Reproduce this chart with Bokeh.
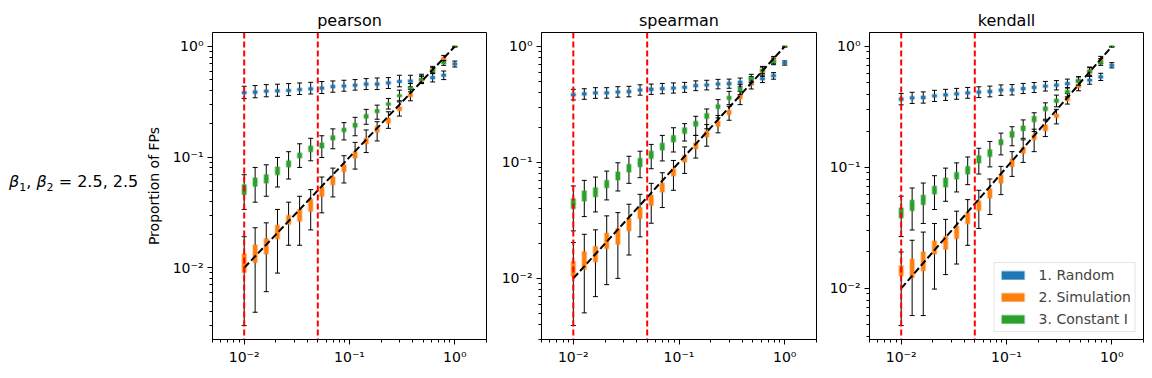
import math
from bokeh.plotting import figure
from bokeh.models import (Range1d, FixedTicker, CustomJSTickFormatter, Span, Div,
                          Legend, LegendItem, Spacer)
from bokeh.layouts import row, column
from bokeh.embed import file_html
from bokeh.resources import INLINE

# ---------------- data ----------------
alphas = [0.01, 0.0127, 0.0162, 0.0207, 0.0264, 0.0336, 0.0428, 0.0546, 0.0695, 0.0886,
          0.113, 0.144, 0.183, 0.234, 0.298, 0.379, 0.483, 0.616, 0.785, 1.0]
alpha_lines = [0.01, 0.05]
ideal = [0.01, 1.0]
panel_titles = ["pearson", "spearman", "kendall"]
series_labels = ["1. Random", "2. Simulation", "3. Constant I"]
y_label = "Proportion of FPs"

# pearson
pearson_random_med = [0.381,0.386,0.394,0.397,0.400,0.408,0.414,0.420,0.434,0.440,0.446,0.456,0.456,0.469,0.482,0.485,0.502,0.523,0.549,0.694]
pearson_random_q1 = [0.371,0.376,0.383,0.386,0.389,0.397,0.403,0.409,0.422,0.428,0.434,0.444,0.444,0.456,0.469,0.472,0.488,0.509,0.534,0.675]
pearson_random_q3 = [0.392,0.397,0.405,0.408,0.411,0.419,0.426,0.432,0.446,0.452,0.458,0.469,0.469,0.482,0.495,0.499,0.516,0.538,0.564,0.713]
pearson_random_lo = [0.339,0.344,0.351,0.355,0.360,0.368,0.372,0.376,0.386,0.394,0.403,0.408,0.408,0.417,0.432,0.432,0.462,0.478,0.502,0.652]
pearson_random_hi = [0.437,0.443,0.452,0.456,0.462,0.468,0.474,0.482,0.488,0.495,0.502,0.512,0.519,0.523,0.549,0.549,0.561,0.576,0.600,0.738]

pearson_sim_med = [0.0108,0.0133,0.0152,0.0212,0.0270,0.0293,0.0373,0.0485,0.0605,0.0796,0.105,0.138,0.176,0.214,0.272,0.360,0.502,0.617,0.780,1.0]
pearson_sim_q1 = [0.00908,0.0112,0.0133,0.0183,0.0247,0.0264,0.0325,0.0443,0.0564,0.0743,0.098,0.132,0.168,0.202,0.263,0.351,0.488,0.600,0.759,0.995]
pearson_sim_q3 = [0.0133,0.0161,0.0183,0.0242,0.0297,0.0337,0.0414,0.0537,0.0661,0.0853,0.112,0.148,0.189,0.224,0.285,0.376,0.512,0.630,0.802,1.0]
pearson_sim_lo = [0.00301,0.00397,0.00609,0.00896,0.0160,0.0160,0.0220,0.0314,0.0437,0.0584,0.0780,0.110,0.140,0.182,0.235,0.323,0.462,0.576,0.738,0.99]
pearson_sim_hi = [0.0191,0.0230,0.0255,0.0337,0.0392,0.0443,0.0509,0.0661,0.0796,0.103,0.136,0.176,0.209,0.257,0.316,0.408,0.541,0.661,0.830,1.0]

pearson_const_med = [0.0509,0.0596,0.0639,0.0743,0.0865,0.103,0.119,0.127,0.150,0.176,0.194,0.232,0.261,0.301,0.358,0.422,0.502,0.600,0.708,1.0]
pearson_const_q1 = [0.0459,0.0545,0.0584,0.0694,0.0813,0.098,0.112,0.121,0.143,0.170,0.186,0.224,0.252,0.295,0.351,0.411,0.495,0.588,0.699,0.995]
pearson_const_q3 = [0.0564,0.0648,0.0694,0.0813,0.0927,0.109,0.126,0.134,0.156,0.182,0.202,0.243,0.270,0.310,0.368,0.431,0.512,0.617,0.723,1.0]
pearson_const_lo = [0.0337,0.0392,0.0443,0.0537,0.0634,0.0807,0.0927,0.0993,0.119,0.143,0.156,0.198,0.220,0.272,0.323,0.389,0.472,0.568,0.675,0.99]
pearson_const_hi = [0.0694,0.0807,0.0853,0.0993,0.112,0.132,0.148,0.156,0.180,0.205,0.229,0.270,0.295,0.339,0.403,0.462,0.538,0.643,0.748,1.0]

# spearman
spearman_random_med = [0.384,0.389,0.397,0.397,0.405,0.408,0.421,0.427,0.433,0.438,0.444,0.459,0.465,0.474,0.478,0.490,0.510,0.527,0.560,0.719]
spearman_random_q1 = [0.374,0.379,0.387,0.387,0.394,0.397,0.410,0.416,0.422,0.426,0.432,0.447,0.453,0.462,0.465,0.477,0.497,0.513,0.545,0.700]
spearman_random_q3 = [0.394,0.400,0.408,0.408,0.416,0.419,0.432,0.439,0.445,0.450,0.456,0.471,0.478,0.487,0.491,0.503,0.524,0.541,0.575,0.738]
spearman_random_lo = [0.346,0.350,0.357,0.358,0.365,0.368,0.380,0.386,0.391,0.396,0.402,0.416,0.422,0.431,0.436,0.448,0.470,0.488,0.522,0.690]
spearman_random_hi = [0.427,0.432,0.441,0.441,0.450,0.453,0.467,0.474,0.480,0.485,0.490,0.505,0.511,0.520,0.523,0.534,0.551,0.566,0.595,0.750]

spearman_sim_med = [0.0120,0.0142,0.0162,0.0211,0.0233,0.0289,0.0369,0.0475,0.0606,0.0826,0.108,0.140,0.176,0.216,0.269,0.367,0.478,0.602,0.763,1.0]
spearman_sim_q1 = [0.0105,0.0120,0.0139,0.0181,0.0197,0.0257,0.0328,0.0427,0.0556,0.0763,0.101,0.131,0.166,0.205,0.259,0.353,0.462,0.582,0.738,0.995]
spearman_sim_q3 = [0.0139,0.0170,0.0188,0.0245,0.0269,0.0328,0.0408,0.0520,0.066,0.0882,0.115,0.148,0.186,0.227,0.280,0.382,0.494,0.622,0.789,1.0]
spearman_sim_lo = [0.00392,0.00504,0.00696,0.00883,0.0100,0.0159,0.0228,0.0299,0.0408,0.0575,0.0804,0.109,0.138,0.180,0.231,0.315,0.430,0.552,0.710,0.99]
spearman_sim_hi = [0.0204,0.0240,0.0262,0.0346,0.0369,0.0436,0.0531,0.066,0.0815,0.104,0.136,0.171,0.212,0.254,0.305,0.410,0.534,0.664,0.820,1.0]

spearman_const_med = [0.0441,0.0514,0.0556,0.0651,0.0763,0.0894,0.0993,0.116,0.136,0.160,0.188,0.216,0.250,0.305,0.360,0.424,0.530,0.622,0.738,1.0]
spearman_const_q1 = [0.0400,0.0465,0.0507,0.0606,0.0705,0.0826,0.0918,0.108,0.128,0.150,0.178,0.205,0.239,0.291,0.348,0.410,0.515,0.606,0.719,0.995]
spearman_const_q3 = [0.0487,0.0567,0.0606,0.070,0.0826,0.0961,0.108,0.125,0.146,0.171,0.199,0.227,0.264,0.315,0.372,0.439,0.546,0.639,0.758,1.0]
spearman_const_lo = [0.0257,0.0341,0.0374,0.0475,0.0567,0.066,0.0738,0.0882,0.103,0.123,0.153,0.171,0.195,0.242,0.315,0.384,0.490,0.582,0.696,0.99]
spearman_const_hi = [0.0626,0.070,0.0748,0.0842,0.0993,0.113,0.125,0.143,0.171,0.199,0.216,0.250,0.289,0.348,0.410,0.468,0.575,0.673,0.794,1.0]

# kendall
kendall_random_med = [0.367,0.376,0.379,0.391,0.398,0.406,0.414,0.419,0.424,0.435,0.438,0.449,0.457,0.469,0.478,0.493,0.519,0.525,0.560,0.698]
kendall_random_q1 = [0.357,0.366,0.368,0.380,0.387,0.395,0.403,0.408,0.413,0.424,0.426,0.437,0.446,0.457,0.466,0.481,0.506,0.512,0.546,0.682]
kendall_random_q3 = [0.377,0.386,0.389,0.401,0.409,0.417,0.425,0.430,0.436,0.447,0.450,0.461,0.470,0.482,0.491,0.506,0.532,0.539,0.575,0.714]
kendall_random_lo = [0.329,0.338,0.340,0.351,0.358,0.366,0.373,0.378,0.383,0.394,0.397,0.408,0.416,0.428,0.437,0.453,0.479,0.487,0.523,0.665]
kendall_random_hi = [0.408,0.418,0.421,0.434,0.442,0.450,0.458,0.464,0.470,0.481,0.484,0.495,0.503,0.514,0.522,0.537,0.562,0.567,0.600,0.735]

kendall_sim_med = [0.0140,0.0147,0.0167,0.0217,0.0237,0.0290,0.0381,0.0481,0.0611,0.0807,0.109,0.139,0.178,0.213,0.268,0.369,0.469,0.623,0.767,1.0]
kendall_sim_q1 = [0.0127,0.0123,0.0140,0.0192,0.0211,0.0258,0.0342,0.0440,0.0560,0.0743,0.102,0.131,0.169,0.201,0.259,0.355,0.455,0.604,0.743,0.995]
kendall_sim_q3 = [0.0154,0.0174,0.0200,0.0247,0.0268,0.0327,0.0421,0.0525,0.0664,0.0870,0.117,0.146,0.186,0.224,0.276,0.383,0.484,0.643,0.792,1.0]
kendall_sim_lo = [0.00493,0.00596,0.00596,0.00987,0.0130,0.0159,0.0227,0.0313,0.0408,0.0596,0.0843,0.110,0.135,0.180,0.229,0.334,0.430,0.567,0.720,0.99]
kendall_sim_hi = [0.0200,0.0250,0.0292,0.0344,0.0372,0.0435,0.0542,0.0647,0.0802,0.102,0.135,0.169,0.207,0.243,0.302,0.408,0.519,0.676,0.828,1.0]

kendall_const_med = [0.0421,0.0487,0.0539,0.0651,0.0753,0.0854,0.0951,0.116,0.131,0.162,0.188,0.211,0.251,0.305,0.355,0.421,0.516,0.619,0.739,1.0]
kendall_const_q1 = [0.0383,0.0440,0.0493,0.0603,0.0689,0.0802,0.0882,0.109,0.123,0.154,0.178,0.201,0.239,0.294,0.344,0.408,0.500,0.604,0.720,0.995]
kendall_const_q3 = [0.0463,0.0536,0.0589,0.0698,0.0818,0.0910,0.102,0.125,0.140,0.169,0.198,0.220,0.263,0.317,0.367,0.435,0.532,0.635,0.758,1.0]
kendall_const_lo = [0.0268,0.0304,0.0344,0.0449,0.0525,0.0627,0.0720,0.0882,0.101,0.127,0.151,0.174,0.198,0.250,0.317,0.383,0.478,0.578,0.698,0.99]
kendall_const_hi = [0.0578,0.0676,0.0743,0.0854,0.0987,0.109,0.122,0.144,0.164,0.192,0.217,0.247,0.283,0.342,0.396,0.457,0.560,0.668,0.792,1.0]

# ---------------- styling ----------------
FONT = "DejaVu Sans"
COLORS = ["#1f77b4", "#ff7f0e", "#2ca02c"]
BOX_HALF = 1.045  # multiplicative half-width of a box on the log x axis

panels = [
    [(pearson_random_lo, pearson_random_q1, pearson_random_med, pearson_random_q3, pearson_random_hi),
     (pearson_sim_lo, pearson_sim_q1, pearson_sim_med, pearson_sim_q3, pearson_sim_hi),
     (pearson_const_lo, pearson_const_q1, pearson_const_med, pearson_const_q3, pearson_const_hi)],
    [(spearman_random_lo, spearman_random_q1, spearman_random_med, spearman_random_q3, spearman_random_hi),
     (spearman_sim_lo, spearman_sim_q1, spearman_sim_med, spearman_sim_q3, spearman_sim_hi),
     (spearman_const_lo, spearman_const_q1, spearman_const_med, spearman_const_q3, spearman_const_hi)],
    [(kendall_random_lo, kendall_random_q1, kendall_random_med, kendall_random_q3, kendall_random_hi),
     (kendall_sim_lo, kendall_sim_q1, kendall_sim_med, kendall_sim_q3, kendall_sim_hi),
     (kendall_const_lo, kendall_const_q1, kendall_const_med, kendall_const_q3, kendall_const_hi)],
]

major_ticks = [0.01, 0.1, 1.0]
minor_ticks = [m * 10.0 ** e for e in (-3, -2, -1, 0) for m in range(2, 10)]

fmt_code = """
const e = Math.round(Math.log10(tick));
const sup = {"-": "\u207b", "0": "\u2070", "1": "\u00b9", "2": "\u00b2", "3": "\u00b3", "4": "\u2074"};
return "10" + String(e).split("").map(c => sup[c]).join("");
"""

borders = [(75, 12, 274), (42, 10, 275), (42, 1, 274)]


def make_panel(idx):
    stats = panels[idx]
    all_vals = [v for s in stats for arr in s for v in arr]
    lmin = math.log10(min(all_vals))
    lmax = math.log10(max(all_vals))
    pad = 0.05 * (lmax - lmin)
    bl, br, fw = borders[idx]
    p = figure(x_axis_type="log", y_axis_type="log",
               x_range=Range1d(0.005, 2.0),
               y_range=Range1d(10 ** (lmin - pad), 10 ** (lmax + pad)),
               frame_width=fw, frame_height=307,
               min_border_left=bl, min_border_right=br,
               min_border_top=19, min_border_bottom=28,
               output_backend="svg", toolbar_location=None,
               title=panel_titles[idx])
    p.title.text_font = FONT
    p.title.text_font_size = "16px"
    p.title.text_font_style = "normal"
    p.title.align = "center"
    p.title.text_color = "black"
    p.title.standoff = 5

    legend_items = []
    for (lo, q1, med, q3, hi), c, lab in zip(stats, COLORS, series_labels):
        p.segment(x0=alphas, y0=lo, x1=alphas, y1=hi, line_color="black", line_width=1)
        p.scatter(x=alphas, y=lo, marker="dash", size=5, line_color="black", line_width=1)
        p.scatter(x=alphas, y=hi, marker="dash", size=5, line_color="black", line_width=1)
        left = [a / BOX_HALF for a in alphas]
        right = [a * BOX_HALF for a in alphas]
        r = p.quad(left=left, right=right, bottom=q1, top=q3, fill_color=c,
                   line_color=c, line_alpha=0.35, line_width=2)
        p.scatter(x=alphas, y=med, marker="dash", size=4, line_color=c, line_width=1.5)
        legend_items.append(LegendItem(label=lab, renderers=[r]))

    p.line(ideal, ideal, line_color="black", line_width=2, line_dash="7 3")
    for a in alpha_lines:
        p.add_layout(Span(location=a, dimension="height", line_color="red",
                          line_width=2, line_dash="6 3"))

    for ax in (p.xaxis[0], p.yaxis[0]):
        ax.ticker = FixedTicker(ticks=major_ticks, minor_ticks=minor_ticks)
        ax.formatter = CustomJSTickFormatter(code=fmt_code)
        ax.axis_line_color = "black"
        ax.major_tick_in = 0
        ax.major_tick_out = 5
        ax.minor_tick_in = 0
        ax.minor_tick_out = 3
        ax.major_tick_line_color = "black"
        ax.minor_tick_line_color = "black"
        ax.major_label_text_font = FONT
        ax.major_label_text_font_size = "14px"
        ax.major_label_text_color = "black"
        ax.major_label_standoff = 4
    p.xgrid.visible = False
    p.ygrid.visible = False
    p.outline_line_color = "black"
    p.outline_line_alpha = 1.0

    if idx == 0:
        p.yaxis.axis_label = y_label
        p.yaxis.axis_label_text_font = FONT
        p.yaxis.axis_label_text_font_size = "14px"
        p.yaxis.axis_label_text_font_style = "normal"
        p.yaxis.axis_label_text_color = "black"
        p.yaxis.axis_label_standoff = 8

    if idx == 2:
        leg = Legend(items=legend_items, location="bottom_right")
        leg.glyph_width = 28
        leg.glyph_height = 10
        leg.label_text_font = FONT
        leg.label_text_font_size = "14px"
        leg.label_text_line_height = 0.9
        leg.label_standoff = 12
        leg.label_height = 13
        leg.spacing = 6
        leg.padding = 4
        leg.margin = 7
        leg.border_line_color = "#cccccc"
        leg.border_line_width = 1
        leg.background_fill_alpha = 0.8
        p.add_layout(leg)
    return p


figs = [make_panel(i) for i in range(3)]

side = Div(text=('<div style="font-family: \'DejaVu Sans\'; font-size: 16px; '
                 'padding-top: 166px; padding-left: 4px; white-space: nowrap; color: black;">'
                 '<i>β</i><sub style="font-size: 11px;">1</sub>, <i>β</i>'
                 '<sub style="font-size: 11px;">2</sub> = 2.5, 2.5</div>'),
           width=127, height=360)

cols = [column(Spacer(height=6, width=10), f) for f in figs]
layout = row(side, *cols)
open("out.html", "w").write(file_html(layout, INLINE, title="chart"))
